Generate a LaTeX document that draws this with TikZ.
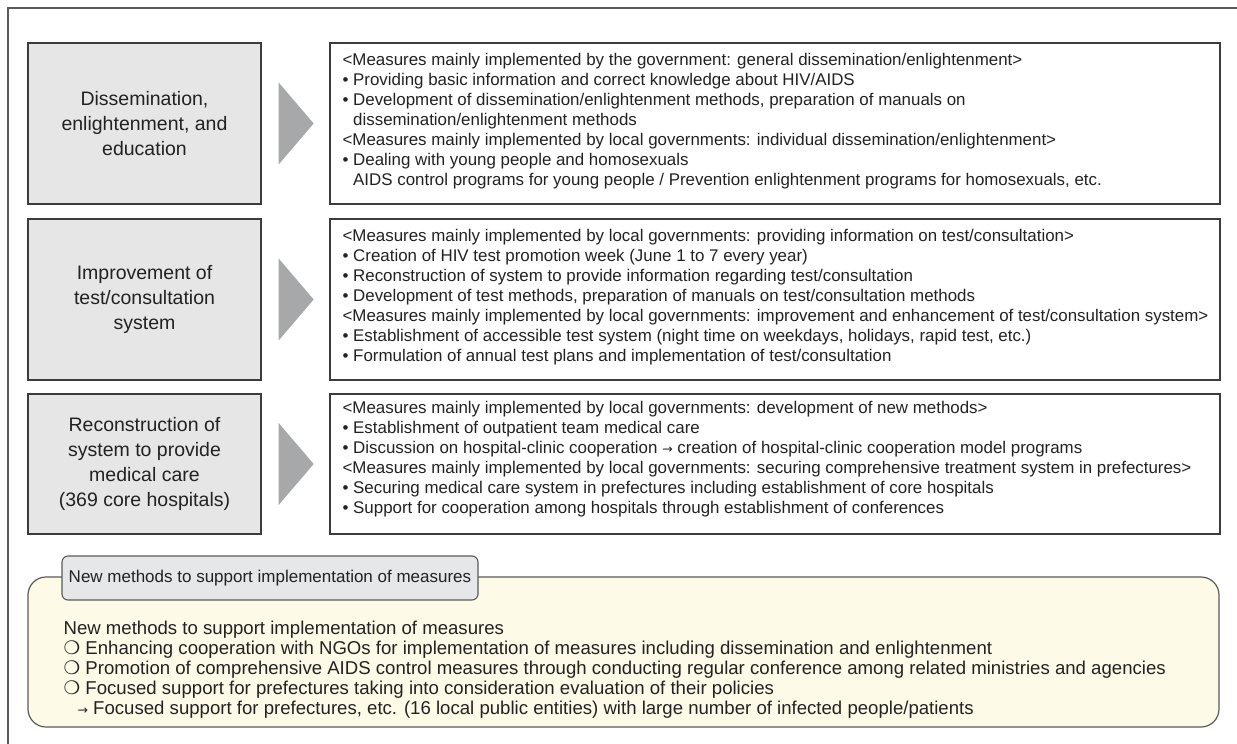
\documentclass[tikz,border=0pt]{standalone}
\usepackage{fontspec}
\setmainfont{Liberation Sans}
\newfontfamily\symfont{DejaVu Sans}
\usetikzlibrary{calc}
\definecolor{framegray}{HTML}{5A5A5A}
\definecolor{boxline}{HTML}{3C3C3C}
\definecolor{leftfill}{HTML}{E6E6E7}
\definecolor{arrowgray}{HTML}{A7A8AA}
\definecolor{creamfill}{HTML}{FEFAE8}
\definecolor{tabfill}{HTML}{E6E7E9}
\definecolor{textgray}{HTML}{222222}
\newcommand{\ind}{\phantom{• }}
\newcommand{\ring}{{\symfont\char"274D}}
\newcommand{\rarr}{{\symfont\fontsize{12.5}{12.5}\selectfont →}}
\tikzset{
  leftbox/.style={draw=boxline, line width=1.3pt, fill=leftfill, minimum width=233, align=center,
    font=\fontsize{19.5}{25}\selectfont, text=textgray},
  rbox/.style={draw=boxline, line width=1.2pt, fill=white, minimum width=890},
  rtext/.style={anchor=west, align=left, inner sep=0pt, font=\fontsize{16.9}{20}\selectfont, text=textgray},
  arrowshape/.style={fill=arrowgray},
  tabbox/.style={draw=framegray, line width=1.1pt, fill=tabfill, rounded corners=6pt, minimum width=416, minimum height=44,
    font=\fontsize{17}{21}\selectfont, text=textgray},
  bigbox/.style={draw=framegray, line width=1.2pt, fill=creamfill, rounded corners=18pt, minimum width=1191, minimum height=150},
  btext/.style={anchor=north west, align=left, inner sep=0pt, font=\fontsize{18.6}{20}\selectfont, text=textgray}
}
\begin{document}
\begin{tikzpicture}[x=1pt,y=-1pt]
\useasboundingbox (0,0) rectangle (1237,744);
\fill[white] (0,0) rectangle (1237,744);
\draw[framegray, line width=1.4pt] (8,744) -- (8,8) -- (1237,8);

% left boxes
\node[leftbox, minimum height=161] (l1) at (144.5,123.5) {Dissemination,\\enlightenment, and\\education};
\node[leftbox, minimum height=161] (l2) at (144.5,299.5) {Improvement of\\test/consultation\\system};
\node[leftbox, minimum height=140] (l3) at (144.5,464) {Reconstruction of\\system to provide\\medical care\\(369 core hospitals)};

% right boxes
\node[rbox, minimum height=161] (r1) at (775,123.5) {};
\node[rbox, minimum height=161] (r2) at (775,299.5) {};
\node[rbox, minimum height=140] (r3) at (775,464) {};

% arrows
\foreach \i in {1,2,3}{
  \fill[arrowshape] ($(l\i.east)+(17,-41)$) -- ($(l\i.east)+(52,0)$) -- ($(l\i.east)+(17,41)$) -- cycle;
}

\node[rtext] (t1) at ($(r1.west)+(13,-2)$) {%
<Measures mainly implemented by the government: general dissemination/enlightenment>\\
• Providing basic information and correct knowledge about HIV/AIDS\\
• Development of dissemination/enlightenment methods, preparation of manuals on\\
\ind dissemination/enlightenment methods\\
<Measures mainly implemented by local governments: individual dissemination/enlightenment>\\
• Dealing with young people and homosexuals\\
\ind AIDS control programs for young people / Prevention enlightenment programs for homosexuals, etc.};

\node[rtext] (t2) at ($(r2.west)+(13,-2)$) {%
<Measures mainly implemented by local governments: providing information on test/consultation>\\
• Creation of HIV test promotion week (June 1 to 7 every year)\\
• Reconstruction of system to provide information regarding test/consultation\\
• Development of test methods, preparation of manuals on test/consultation methods\\
<Measures mainly implemented by local governments: improvement and enhancement of test/consultation system>\\
• Establishment of accessible test system (night time on weekdays, holidays, rapid test, etc.)\\
• Formulation of annual test plans and implementation of test/consultation};

\node[rtext] (t3) at ($(r3.west)+(13,-5)$) {%
<Measures mainly implemented by local governments: development of new methods>\\
• Establishment of outpatient team medical care\\
• Discussion on hospital-clinic cooperation \rarr{} creation of hospital-clinic cooperation model programs\\
<Measures mainly implemented by local governments: securing comprehensive treatment system in prefectures>\\
• Securing medical care system in prefectures including establishment of core hospitals\\
• Support for cooperation among hospitals through establishment of conferences};

% bottom
\node[bigbox] (nb) at (623.5,652) {};
\node[tabbox] (tab) at (270,578) {New methods to support implementation of measures};
\node[btext] (bt) at ($(nb.west)+(36,-31)$) {%
New methods to support implementation of measures\\
\ring{} Enhancing cooperation with NGOs for implementation of measures including dissemination and enlightenment\\
\ring{} Promotion of comprehensive AIDS control measures through conducting regular conference among related ministries and agencies\\
\ring{} Focused support for prefectures taking into consideration evaluation of their policies\\
\hspace*{14pt}\rarr{} Focused support for prefectures, etc. (16 local public entities) with large number of infected people/patients};
\end{tikzpicture}
\end{document}
